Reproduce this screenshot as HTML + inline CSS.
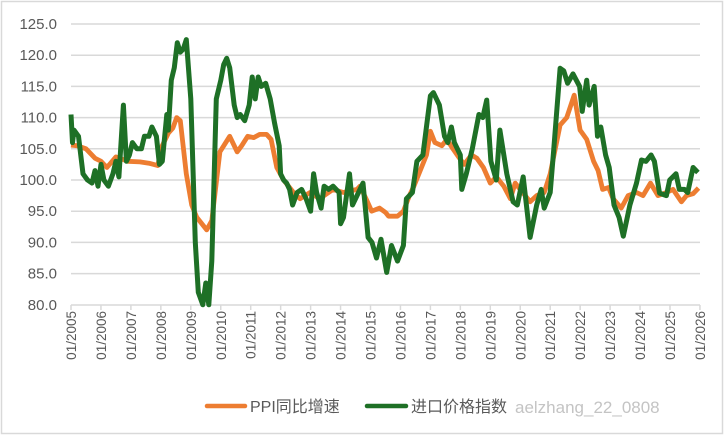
<!DOCTYPE html>
<html><head><meta charset="utf-8"><style>
html,body{margin:0;padding:0;background:#fff;}
svg{display:block;}
text{font-family:"Liberation Sans","Noto Sans CJK SC",sans-serif;fill:#595959;}
</style></head><body>
<svg id="s" width="724" height="436" viewBox="0 0 724 436" xmlns="http://www.w3.org/2000/svg">
<rect x="1.5" y="1.5" width="721" height="432" fill="#fff" stroke="#d9d9d9" stroke-width="1.5"/>
<g id="grid"></g>
<g id="lbl"></g>
<polyline id="po" fill="none" stroke="#ED7D31" stroke-width="4.8" stroke-linejoin="round"/>
<polyline id="pg" fill="none" stroke="#1E7026" stroke-width="5" stroke-linejoin="round"/>
<line x1="207" y1="406" x2="245" y2="406" stroke="#ED7D31" stroke-width="4.5" stroke-linecap="round"/>
<text x="250" y="412" font-size="16">PPI同比增速</text>
<line x1="367" y1="406" x2="406" y2="406" stroke="#1E7026" stroke-width="4.5" stroke-linecap="round"/>
<text x="411" y="412" font-size="16">进口价格指数</text>
<text x="515" y="413" font-size="17" style="fill:#c4c4c4">aelzhang_22_0808</text>
</svg>
<script>
var X=function(y){return 71+(y-2005)*29.95;};
var Y=function(v){return 24+(125-v)*6.24;};
var ns="http://www.w3.org/2000/svg";
var g=document.getElementById('grid'),l=document.getElementById('lbl');
function el(t,a,p,txt){var e=document.createElementNS(ns,t);for(var k in a)e.setAttribute(k,a[k]);if(txt)e.textContent=txt;p.appendChild(e);return e;}
for(var v=80;v<=125;v+=5){var y=Y(v);
 if(v>80)el('line',{x1:71,x2:700,y1:y,y2:y,stroke:'#d9d9d9','stroke-width':1.5},g);
 el('text',{x:57,y:y+5,'font-size':15,'text-anchor':'end'},l,v.toFixed(1));}
el('line',{x1:71,x2:700,y1:305,y2:305,stroke:'#d9d9d9','stroke-width':1.5},g);
for(var yr=2005;yr<=2026;yr++){var x=X(yr);
 el('line',{x1:x,x2:x,y1:305,y2:310,stroke:'#d9d9d9','stroke-width':1.5},g);
 el('text',{x:0,y:0,'font-size':13.5,'text-anchor':'end',transform:'translate('+(x+5)+',311) rotate(-90)'},l,'01/'+yr);}
var G=[2005,110.5,2005.05,106,2005.1,108,2005.25,107,2005.4,101,2005.55,100,2005.7,99.5,2005.8,101.5,2005.9,99,2006.0,102.5,2006.1,100,2006.25,99,2006.4,101,2006.5,103,2006.6,100.5,2006.75,112,2006.85,103,2006.95,104,2007.05,106,2007.2,105,2007.35,105,2007.45,107,2007.6,107,2007.7,108.5,2007.85,107,2007.95,102.5,2008.05,103,2008.2,110.5,2008.25,108,2008.35,116,2008.45,118,2008.55,122,2008.65,120.5,2008.75,121,2008.85,122.5,2009.0,113,2009.15,90,2009.25,82,2009.4,80,2009.5,83.5,2009.6,80,2009.7,87,2009.85,113,2010.0,116,2010.1,118.5,2010.2,119.5,2010.3,118,2010.45,112,2010.55,110,2010.65,110.5,2010.8,109.5,2010.95,112,2011.05,116.5,2011.15,113,2011.25,116.5,2011.35,115,2011.5,115.5,2011.65,113,2011.8,109,2011.95,105.5,2012.0,101,2012.1,100,2012.2,99.5,2012.3,98.5,2012.4,96,2012.55,98,2012.7,98.5,2012.85,97,2013.0,95,2013.1,101,2013.2,98,2013.35,95.5,2013.45,99,2013.6,98.5,2013.75,99,2013.95,98,2014.0,93,2014.1,94,2014.3,101,2014.4,96,2014.6,98,2014.75,99.5,2014.92,90.8,2015.05,90,2015.2,87.5,2015.35,90.5,2015.54,85.2,2015.7,89.5,2015.9,87,2016.1,89.5,2016.2,97,2016.4,98,2016.55,103,2016.75,104,2017.0,113.5,2017.1,114,2017.3,112,2017.47,107,2017.58,106,2017.7,108.5,2017.8,106,2018.0,104,2018.05,98.5,2018.2,101,2018.4,105,2018.62,110.5,2018.75,110,2018.88,112.8,2019.02,103,2019.2,100,2019.32,108,2019.55,101,2019.76,96.5,2019.9,96,2020.1,100.5,2020.33,90.8,2020.55,96,2020.7,98.5,2020.8,95.5,2021.0,98,2021.12,105,2021.33,117.9,2021.45,117.5,2021.58,115.5,2021.76,117,2021.98,115,2022.07,111,2022.22,116,2022.3,112,2022.47,115,2022.58,107,2022.69,108.5,2022.85,104,2022.97,102,2023.13,96,2023.3,94,2023.44,91,2023.66,96,2023.88,99.5,2024.05,103.2,2024.2,103,2024.37,104,2024.48,103,2024.65,97.9,2024.88,97.5,2024.99,100,2025.2,101,2025.31,98.5,2025.48,98.5,2025.59,98,2025.77,102,2025.93,101.2];
var O=[2005,105.6,2005.2,105.5,2005.5,105,2005.8,103.5,2006.0,103,2006.2,102,2006.5,103.7,2006.9,103,2007.3,102.9,2007.6,102.7,2007.9,102.3,2008.0,105,2008.25,107.5,2008.4,108.3,2008.53,110,2008.65,109.5,2008.85,101,2009.03,96,2009.2,94,2009.53,92,2009.7,93.5,2009.97,104.5,2010.3,107,2010.55,104.5,2010.7,105.5,2010.9,107,2011.1,106.8,2011.3,107.3,2011.53,107.3,2011.68,106.5,2011.87,102,2012.1,100,2012.43,98,2012.65,97,2012.98,98,2013.3,97,2013.75,98.5,2014.1,98,2014.55,98.5,2014.65,99,2014.85,97,2015.04,95,2015.3,95.5,2015.5,94.8,2015.6,94.2,2015.9,94.2,2016.1,95,2016.3,97.5,2016.45,99,2016.87,104,2017.0,107.8,2017.15,106,2017.38,105.5,2017.55,106.5,2017.75,105,2017.97,103.5,2018.13,102.5,2018.37,104,2018.55,103.5,2018.77,102,2019.0,99.5,2019.2,100.5,2019.45,99,2019.67,97,2019.83,99.5,2020.33,96.5,2020.55,97.5,2020.8,98,2021.0,101,2021.33,108.8,2021.55,110,2021.8,113.6,2022.0,108,2022.22,106.5,2022.45,103,2022.6,101.5,2022.75,98.5,2022.95,98.8,2023.1,97,2023.37,95.5,2023.6,97.5,2023.88,98,2024.1,97.5,2024.35,99.5,2024.6,97.5,2024.88,98,2025.1,98.5,2025.38,96.5,2025.55,97.5,2025.77,97.8,2025.95,98.7];
function pts(a){var s=[];for(var i=0;i<a.length;i+=2){var v=Math.max(a[i+1],79.2);s.push(X(a[i]).toFixed(1)+','+Y(v).toFixed(1));}return s.join(' ');}
document.getElementById('po').setAttribute('points',pts(O));
document.getElementById('pg').setAttribute('points',pts(G));
</script>
</body></html>
